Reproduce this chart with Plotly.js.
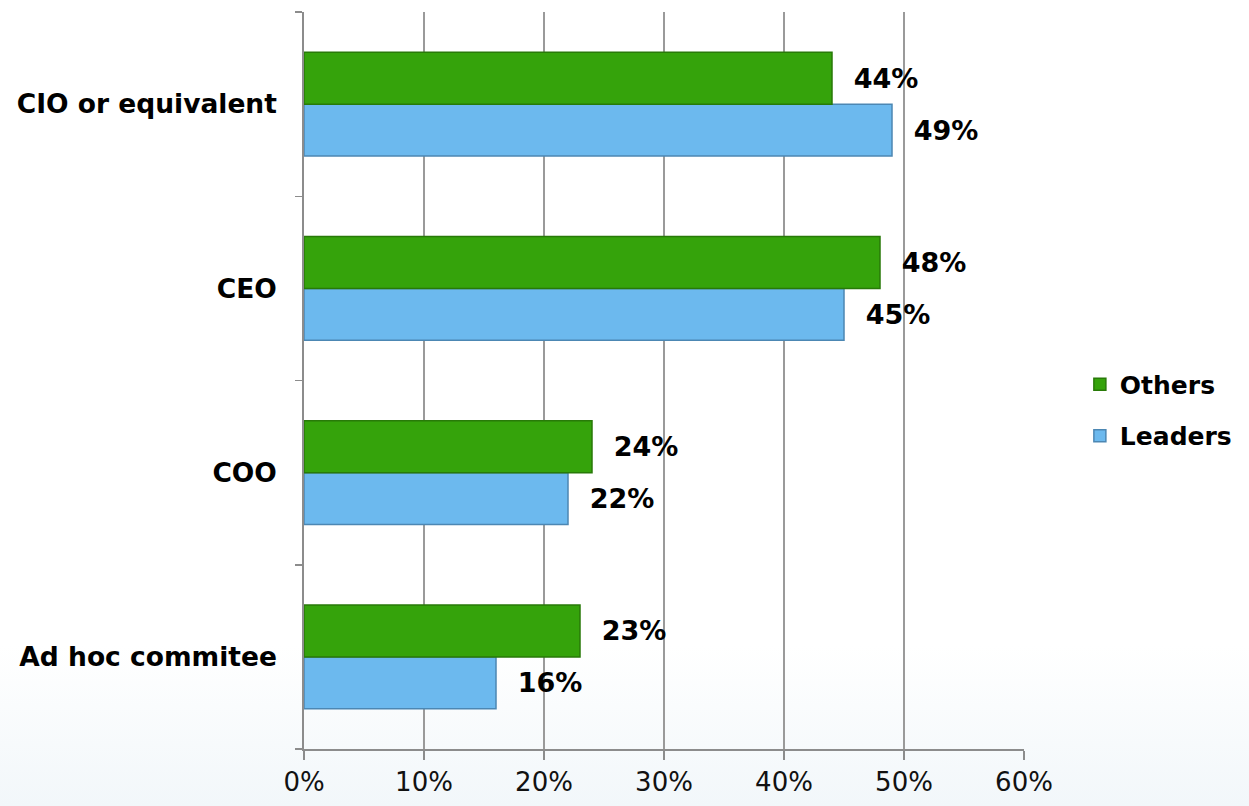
<!DOCTYPE html>
<html>
<head>
<meta charset="utf-8">
<script src="https://cdn.plot.ly/plotly-3.0.1.min.js"></script>
<style>
  html, body { margin: 0; padding: 0; }
  #chart { width: 1249px; height: 806px;
    background: linear-gradient(to bottom, #ffffff 0%, #ffffff 80%, #f2f7fa 100%); }
</style>
</head>
<body>
<div id="chart"></div>
<script>
// Categories listed bottom-to-top (Plotly category axis starts at bottom)
const categories = ["Ad hoc commitee", "COO", "CEO", "CIO or equivalent"];
const leaders = [16, 22, 45, 49];
const others = [23, 24, 48, 44];
const xTickVals = [0, 10, 20, 30, 40, 50, 60];
const xTickText = ["0%", "10%", "20%", "30%", "40%", "50%", "60%"];

const FONT = "DejaVu Sans, Verdana, sans-serif";
const labelFont = { family: FONT, size: 27, color: "#000000", weight: "bold" };
const pad = "\u00a0\u00a0";

const traces = [
  {
    type: "bar", orientation: "h", name: "Leaders", legendgroup: "L", legendrank: 2,
    y: categories, x: leaders,
    text: leaders.map(v => pad + v + "%"),
    textposition: "outside", cliponaxis: false,
    textfont: labelFont,
    marker: { color: "#6cb9ee", line: { color: "#4c87b3", width: 1.5 } },
    hoverinfo: "skip"
  },
  {
    type: "bar", orientation: "h", name: "Others", legendgroup: "O", legendrank: 1,
    y: categories, x: others,
    text: others.map(v => pad + v + "%"),
    textposition: "outside", cliponaxis: false,
    textfont: labelFont,
    marker: { color: "#35a30b", line: { color: "#287a08", width: 1.5 } },
    hoverinfo: "skip"
  }
];

const layout = {
  width: 1249, height: 806,
  paper_bgcolor: "rgba(0,0,0,0)",
  plot_bgcolor: "rgba(0,0,0,0)",
  margin: { l: 304, r: 223, t: 12, b: 57 },
  barmode: "group",
  bargap: 0.436,
  bargroupgap: 0,
  showlegend: true,
  legend: {
    x: 1.0776, xanchor: "left", y: 0.46, yanchor: "middle",
    traceorder: "grouped",
    font: { family: FONT, size: 25, color: "#000", weight: "bold" },
    itemwidth: 30, tracegroupgap: 16,
    bgcolor: "rgba(0,0,0,0)"
  },
  xaxis: {
    range: [0, 60], tickvals: xTickVals, ticktext: xTickText,
    showgrid: true, gridcolor: "#9a9a9a", gridwidth: 1.2,
    showline: true, linecolor: "#8c8c8c", linewidth: 1.8,
    ticks: "outside", ticklen: 9, tickcolor: "#8c8c8c", tickwidth: 1.5,
    tickfont: { family: FONT, size: 26, color: "#111" },
    zeroline: false, fixedrange: true
  },
  yaxis: {
    type: "category", categoryorder: "array", categoryarray: categories,
    showline: true, linecolor: "#8c8c8c", linewidth: 1.8,
    ticks: "outside", tickson: "boundaries", ticklen: 7, tickcolor: "#8c8c8c", tickwidth: 1.5,
    showgrid: false,
    ticklabelstandoff: 20,
    tickfont: { family: FONT, size: 26.5, color: "#000", weight: "bold" },
    fixedrange: true
  }
};

Plotly.newPlot("chart", traces, layout, { displayModeBar: false, staticPlot: true });
</script>
</body>
</html>
